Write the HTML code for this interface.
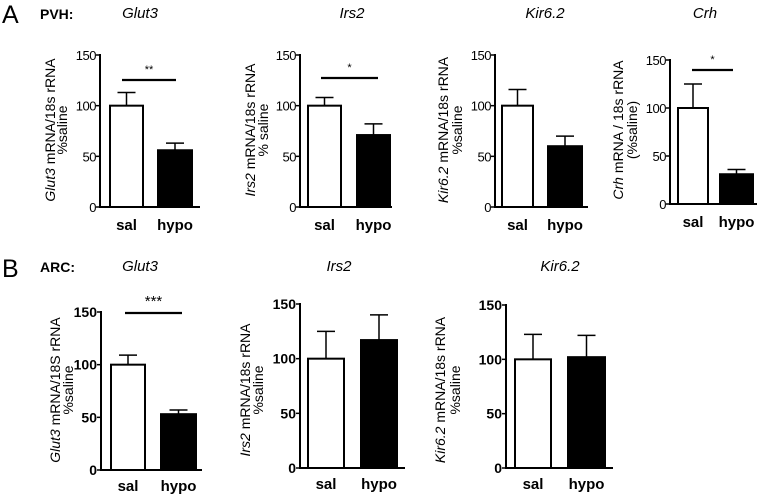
<!DOCTYPE html>
<html><head><meta charset="utf-8"><style>
html,body{margin:0;padding:0;background:#fff}
svg{display:block;font-family:"Liberation Sans",Arial,sans-serif}
</style></head><body>
<svg id="fig" width="762" height="497" viewBox="0 0 762 497" xmlns="http://www.w3.org/2000/svg">
<text x="2" y="23" font-size="25">A</text>
<text x="40" y="19" font-size="14" font-weight="bold">PVH:</text>
<text x="2" y="277" font-size="25">B</text>
<text x="40" y="272" font-size="14" font-weight="bold">ARC:</text>
</svg>
<script>
// data
const groups = ["sal","hypo"];
const titles = ["Glut3","Irs2","Kir6.2","Crh","Glut3","Irs2","Kir6.2"];
const means = [[100,56],[100,71],[100,60],[100,31],[100,53],[100,117],[100,102]];
const errors = [[13,7],[8,11],[16,10],[25,5],[9,4],[25,23],[23,20]];
const sigLabels = ["**","*","","*","***","",""];
const yTicks = [0,50,100,150];

// layout (pixel positions, not data)
const layout = [
 {ax:100,y0:207,y150:55,end:200,b:[[110,143],[158,192]],lab:[50,62],ly:130,ty:18,tx:140,bold:false,sig:[122,176,80],l1:["Glut3"," mRNA/18s rRNA"],l2:"%saline"},
 {ax:300,y0:207,y150:55,end:392,b:[[308,341],[357,390]],lab:[250,263],ly:130,ty:18,tx:352,bold:false,sig:[321,378,78],l1:["Irs2"," mRNA/18s rRNA"],l2:"% saline"},
 {ax:495,y0:207,y150:55,end:588,b:[[502,533],[548,582]],lab:[443,457],ly:130,ty:18,tx:545,bold:false,sig:null,l1:["Kir6.2"," mRNA/18s rRNA"],l2:"%saline"},
 {ax:670,y0:204,y150:60,end:757,b:[[678,708],[720,753]],lab:[618,632],ly:130,ty:18,tx:705,bold:false,sig:[692,733,70],l1:["Crh"," mRNA / 18s rRNA"],l2:"(%saline)"},
 {ax:101,y0:470,y150:312,end:202,b:[[111,145],[161,196]],lab:[55,68],ly:390,ty:271,tx:140,bold:true,sig:[125,182,313],l1:["Glut3"," mRNA/18S rRNA"],l2:"%saline"},
 {ax:300,y0:468,y150:304,end:405,b:[[308,344],[361,397]],lab:[245,258],ly:390,ty:271,tx:339,bold:true,sig:null,l1:["Irs2"," mRNA/18s rRNA"],l2:"%saline"},
 {ax:506,y0:468,y150:305,end:613,b:[[515,551],[568,605]],lab:[440,455],ly:390,ty:271,tx:560,bold:true,sig:null,l1:["Kir6.2"," mRNA/18s rRNA"],l2:"%saline"}
];
const NS="http://www.w3.org/2000/svg";
const svg=document.getElementById('fig');
function mk(tag,attrs,parent){const e=document.createElementNS(NS,tag);for(const k in attrs)e.setAttribute(k,attrs[k]);(parent||svg).appendChild(e);return e;}
layout.forEach((L,p)=>{
  const g=mk('g',{});
  
  
  const y=v=>L.y0-(v/150)*(L.y0-L.y150);
  const t=mk('text',{x:L.tx,y:L.ty,'font-size':15,'font-style':'italic','text-anchor':'middle'},g);t.textContent=titles[p];
  
  
  groups.forEach((gname,i)=>{
    const [x1,x2]=L.b[i];const m=means[p][i],e=errors[p][i];const xc=(x1+x2)/2;
    const eb=mk('line',{x1:xc,x2:xc,y1:y(m),y2:y(m+e),stroke:'#000','stroke-width':1.5},g);
    
    
    const cap=mk('line',{x1:xc-9,x2:xc+9,y1:y(m+e),y2:y(m+e),stroke:'#000','stroke-width':1.5},g);
    
    
    const r=mk('rect',{x:x1,y:y(m),width:x2-x1,height:L.y0-y(m),fill:i?'#000':'#fff',stroke:'#000','stroke-width':2},g);
    
    
    const lt=mk('text',{x:xc,y:L.y0+(p<4?23:21),'font-size':15,'font-weight':'bold','text-anchor':'middle'},g);lt.textContent=gname;
    
    
  });
  const ya=mk('line',{x1:L.ax,x2:L.ax,y1:L.y150-1,y2:L.y0+1,stroke:'#000','stroke-width':2},g);
  
  
  const xa=mk('line',{x1:L.ax-1,x2:L.end,y1:L.y0,y2:L.y0,stroke:'#000','stroke-width':2},g);
  
  
  yTicks.forEach(v=>{
    const tk=mk('line',{x1:L.ax-4,x2:L.ax,y1:y(v),y2:y(v),stroke:'#000','stroke-width':1.5},g);
    
    
    const tl=mk('text',{x:L.ax-4,y:y(v)+5,'font-size':L.bold?14:13,'font-weight':L.bold?'bold':'normal','text-anchor':'end','letter-spacing':L.bold?0:-0.5},g);tl.textContent=v;
    
    
  });
  const yl=mk('text',{x:0,y:0,'font-size':14,'text-anchor':'middle',transform:`translate(${L.lab[0]+5},${L.ly}) rotate(-90)`},g);
  const s1=mk('tspan',{'font-style':'italic'},yl);s1.textContent=L.l1[0];
  const s2=mk('tspan',{},yl);s2.textContent=L.l1[1];
  
  
  const yl2=mk('text',{x:0,y:0,'font-size':14,'text-anchor':'middle',transform:`translate(${L.lab[1]+5},${L.ly}) rotate(-90)`},g);yl2.textContent=L.l2;
  
  
  if(L.sig&&sigLabels[p]){
    const sl=mk('line',{x1:L.sig[0],x2:L.sig[1],y1:L.sig[2],y2:L.sig[2],stroke:'#000','stroke-width':2.2},g);
    
    
    const st=mk('text',{x:(L.sig[0]+L.sig[1])/2,y:L.sig[2]-7,'font-size':p<4?11:15,'text-anchor':'middle'},g);st.textContent=sigLabels[p];
    
    
  }
});
</script>
</body></html>
